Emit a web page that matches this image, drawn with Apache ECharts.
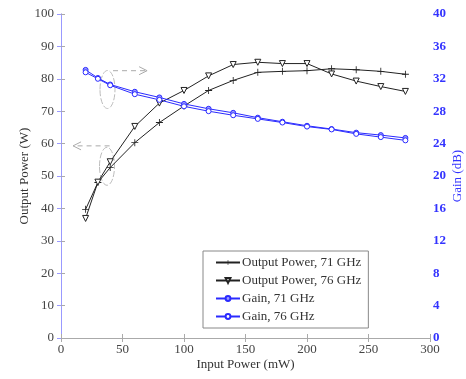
<!DOCTYPE html>
<html>
<head>
<meta charset="utf-8">
<script src="https://cdn.jsdelivr.net/npm/echarts@6/dist/echarts.min.js"></script>
<style>
  html, body { margin: 0; padding: 0; background: #fff; }
  #main { width: 466px; height: 379px; }
</style>
</head>
<body>
<div id="main"></div>
<script>
// input power (mW)
const inputPower = [20, 30, 40, 60, 80, 100, 120, 140, 160, 180, 200, 220, 240, 260, 280];
// output power (W)
const outPower71 = [39.7, 48.0, 52.6, 60.3, 66.5, 71.6, 76.4, 79.5, 82.0, 82.3, 82.5, 83.1, 82.8, 82.3, 81.4];
const outPower76 = [36.9, 48.1, 54.4, 65.3, 72.5, 76.4, 80.9, 84.4, 85.1, 84.7, 84.7, 81.5, 79.3, 77.6, 76.1];
// gain (dB)
const gain71 = [33.1, 32.1, 31.3, 30.4, 29.7, 28.9, 28.3, 27.8, 27.2, 26.7, 26.2, 25.8, 25.35, 25.05, 24.7];
const gain76 = [32.8, 32.0, 31.2, 30.1, 29.4, 28.6, 28.0, 27.5, 27.05, 26.6, 26.1, 25.75, 25.2, 24.8, 24.4];

const FONT = 'Liberation Serif';
const pair = (xs, ys) => xs.map((x, i) => [x, ys[i]]);
const plus = 'path://M4.4,0H5.6V4.4H10V5.6H5.6V10H4.4V5.6H0V4.4H4.4Z';

const chart = echarts.init(document.getElementById('main'));

const option = {
  animation: false,
  textStyle: { fontFamily: FONT },
  grid: { left: 61, right: 36, top: 14, bottom: 41, outerBoundsMode: 'none', containLabel: false },
  legend: {
    orient: 'vertical',
    left: 203,
    top: 251,
    itemWidth: 24,
    itemHeight: 6,
    itemGap: 5,
    padding: [5, 7, 5, 12],
    borderColor: '#888',
    borderWidth: 1,
    textStyle: { fontFamily: FONT, fontSize: 13, color: '#333', padding: [0, 0, 0, -3] },
    data: ['Output Power, 71 GHz', 'Output Power, 76 GHz', 'Gain, 71 GHz', 'Gain, 76 GHz']
  },
  xAxis: [{
    type: 'value',
    min: 0, max: 300, interval: 50,
    name: 'Input Power (mW)',
    nameLocation: 'middle',
    nameGap: 20,
    nameMoveOverlap: false,
    nameTextStyle: { fontFamily: FONT, fontSize: 13, color: '#333' },
    axisLine: { lineStyle: { color: '#aaa' } },
    axisTick: { inside: true, length: 4, lineStyle: { color: '#aaa' } },
    axisLabel: { fontFamily: FONT, fontSize: 13, color: '#444', margin: 5 },
    splitLine: { show: false }
  }, {
    type: 'value',
    position: 'top',
    min: 0, max: 300, interval: 50,
    axisLine: { show: true, lineStyle: { color: '#aaa' } },
    axisTick: { show: true, inside: true, length: 4, lineStyle: { color: '#aaa' } },
    axisLabel: { show: false },
    splitLine: { show: false }
  }],
  yAxis: [{
    type: 'value',
    min: 0, max: 100, interval: 10,
    name: 'Output Power (W)',
    nameLocation: 'middle',
    nameGap: 30,
    nameMoveOverlap: false,
    nameTextStyle: { fontFamily: FONT, fontSize: 13, color: '#333' },
    axisLine: { show: true, lineStyle: { color: '#aaa' } },
    axisTick: { show: true, inside: true, length: 4, lineStyle: { color: '#aaa' } },
    axisLabel: { fontFamily: FONT, fontSize: 13, color: '#444', margin: 7 },
    splitLine: { show: false }
  }, {
    type: 'value',
    min: 0, max: 40, interval: 4,
    position: 'right',
    name: 'Gain (dB)',
    nameLocation: 'middle',
    nameGap: 21,
    nameMoveOverlap: false,
    nameTextStyle: { fontFamily: FONT, fontSize: 13, color: '#3333ff' },
    axisLine: { show: true, lineStyle: { color: '#9999ff' } },
    axisTick: { show: true, inside: true, length: 4, lineStyle: { color: '#9999ff' } },
    axisLabel: { fontFamily: FONT, fontSize: 13, color: '#3333ff', fontWeight: 'bold', margin: 3 },
    splitLine: { show: false }
  }],
  series: [{
    name: 'Output Power, 71 GHz',
    type: 'line',
    data: pair(inputPower, outPower71),
    symbol: plus,
    symbolSize: 7,
    lineStyle: { color: '#222', width: 1 },
    itemStyle: { color: '#222' }
  }, {
    name: 'Output Power, 76 GHz',
    type: 'line',
    data: pair(inputPower, outPower76),
    symbol: 'triangle',
    symbolRotate: 180,
    symbolSize: 6,
    lineStyle: { color: '#222', width: 1 },
    itemStyle: { color: '#fff', borderColor: '#222', borderWidth: 1 }
  }, {
    name: 'Gain, 71 GHz',
    type: 'line',
    yAxisIndex: 1,
    data: pair(inputPower, gain71),
    symbol: 'circle',
    symbolSize: 5,
    lineStyle: { color: '#2a2aff', width: 1 },
    itemStyle: { color: '#9999ff', borderColor: '#2a2aff', borderWidth: 1 }
  }, {
    name: 'Gain, 76 GHz',
    type: 'line',
    yAxisIndex: 1,
    data: pair(inputPower, gain76),
    symbol: 'circle',
    symbolSize: 5,
    lineStyle: { color: '#2a2aff', width: 1 },
    itemStyle: { color: '#fff', borderColor: '#2a2aff', borderWidth: 1 }
  }]
};

chart.setOption(option);

// dashed ellipse + arrow annotations, placed in data coordinates
function px(x, y) { return chart.convertToPixel({ xAxisIndex: 0, yAxisIndex: 0 }, [x, y]); }
function annot(cx, cy, ax0, ax1, ay) {
  const c = px(cx, cy);
  const a0 = px(ax0, ay);
  const a1 = px(ax1, ay);
  const dir = a1[0] > a0[0] ? 1 : -1;
  return [{
    type: 'ellipse', silent: true,
    shape: { cx: c[0], cy: c[1], rx: 7.5, ry: 19 },
    style: { stroke: '#bbb', lineWidth: 1, lineDash: [6, 2], fill: null }
  }, {
    type: 'line', silent: true,
    shape: { x1: a0[0], y1: a0[1], x2: a1[0], y2: a1[1] },
    style: { stroke: '#aaa', lineWidth: 1, lineDash: [5, 4], fill: null }
  }, {
    type: 'polyline', silent: true,
    shape: { points: [[a1[0] - dir * 8, a1[1] - 4], [a1[0], a1[1]], [a1[0] - dir * 8, a1[1] + 4]] },
    style: { stroke: '#aaa', lineWidth: 1, fill: null }
  }];
}
chart.setOption({
  graphic: [].concat(
    annot(37.8, 76.7, 42.3, 70, 82.5),
    annot(37.4, 53.0, 39.5, 9.8, 59.3)
  )
});
</script>
</body>
</html>
